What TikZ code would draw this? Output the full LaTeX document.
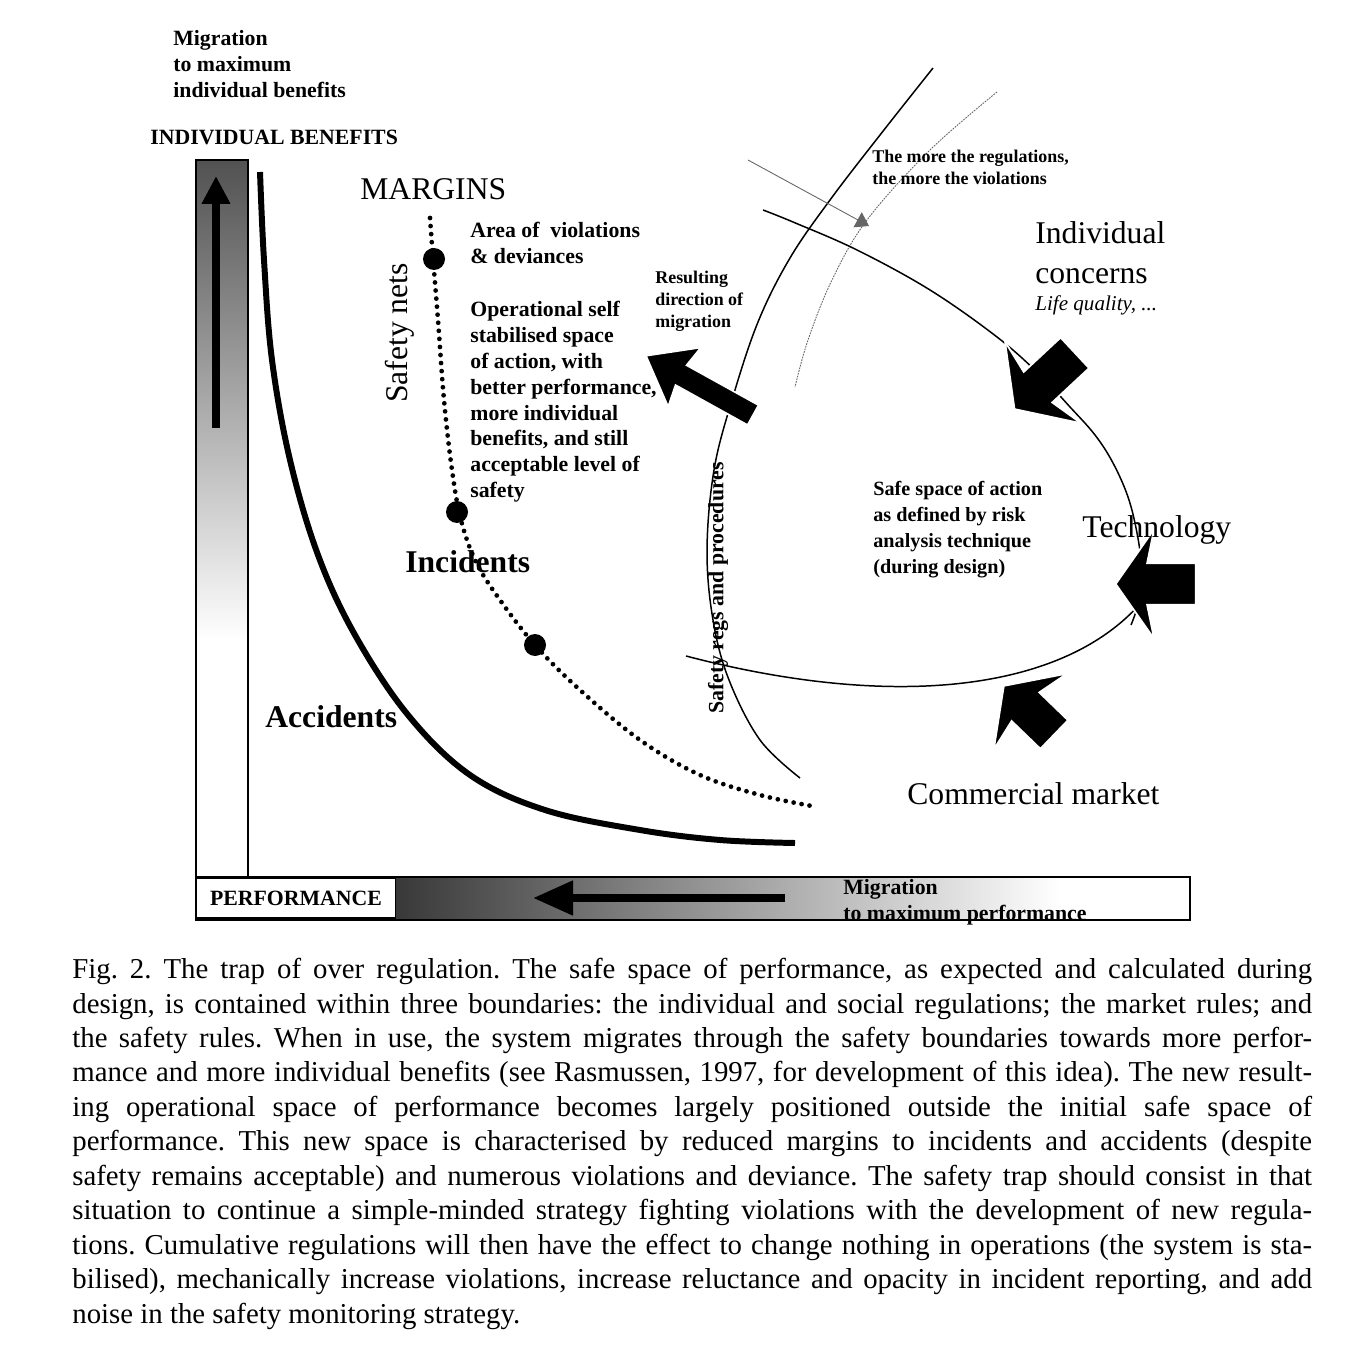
\documentclass[tikz,border=0pt]{standalone}
\usepackage{fontspec}
\setmainfont{Liberation Serif}
\usetikzlibrary{arrows.meta,shapes.arrows}
\tikzset{
  lbl/.style    = {font=\fontsize{12.4}{14.7}\selectfont\bfseries, align=left, inner sep=0pt, anchor=north west},
  smalllbl/.style = {font=\fontsize{10.2}{12.5}\selectfont\bfseries, align=left, inner sep=0pt, anchor=north west},
  big/.style    = {font=\fontsize{18}{22.7}\selectfont, inner sep=0pt, align=left},
  bigb/.style   = {font=\fontsize{18}{22.7}\selectfont\bfseries, inner sep=0pt},
  bound/.style  = {draw=black, line width=0.85pt},
  accline/.style = {line width=3.4pt},
  netline/.style = {line width=2.7pt, line cap=round, dash pattern=on 0pt off 4.6pt},
  hit/.style    = {circle, fill=black, inner sep=0pt, minimum size=4.4mm},
  fatarr/.style = {single arrow, fill=black, draw=white, line width=1pt, inner xsep=0pt,
                   single arrow tip angle=110, single arrow head indent=1.4mm},
  migr/.style   = {-{Triangle[length=5.6mm, width=5.4mm]}, line width=4.5pt},
}

\begin{document}
\begin{tikzpicture}[x=0.02cm, y=-0.02cm]
  \useasboundingbox (0,0) rectangle (1354,1344);
  % axes with gradients
  \shade[top color=black!68, bottom color=white] (196,160) rectangle (248,640);
  \draw[line width=0.6pt] (196,160) rectangle (248,878);
  \shade[left color=black!78, right color=white] (395,877) rectangle (1060,920);
  \draw[line width=0.6pt] (196,877) rectangle (1190,920);
  \node[draw, fill=white, line width=0.6pt, inner sep=0pt, minimum width=3.98cm, minimum height=0.8cm,
        font=\fontsize{12.4}{14.7}\selectfont\bfseries] (perf) at (296,898) {PERFORMANCE};
  \coordinate (up0) at (216,428);
  \coordinate (up1) at (216,176);
  \draw[migr] (up0) -- (up1);
  \coordinate (left0) at (785,898);
  \coordinate (left1) at (533,898);
  \draw[migr, -{Triangle[length=8mm, width=6.6mm]}] (left0) -- (left1);
  \node[lbl] (migben) at (173,30) {Migration\\to maximum\\individual benefits};
  \node[lbl, anchor=west] (indben) at (150,137) {INDIVIDUAL BENEFITS};
  \node[lbl] (migperf) at (843,879) {Migration\\to maximum performance};

  % accidents and incidents curves
  \draw[accline] plot[smooth, tension=0.6] coordinates {(260,172) (264,260) (272,360) (290,460) (318,555)
    (355,635) (408,715) (470,775) (545,810) (640,830) (720,840) (795,843)};
  \draw[netline] plot[smooth, tension=0.6] coordinates {(430,218) (433,258) (438,320) (444,400) (452,470)
    (461,520) (476,562) (500,600) (535,645) (580,690) (640,740) (700,775) (760,795) (812,806)};
  \foreach \i/\p in {1/{(434,259)}, 2/{(457,512)}, 3/{(535,645)}}
    \node[hit] (hit\i) at \p {};

  % boundaries of the safe space
  \draw[bound] plot[smooth, tension=0.6] coordinates {(933,68) (880,135) (830,200) (790,258) (758,322)
    (732,400) (714,470) (707,550) (713,620) (729,680) (760,740) (800,778)};
  \draw[black!60, line width=0.5pt, dash pattern=on 1pt off 0.6pt] plot[smooth, tension=0.6] coordinates
    {(997,92) (930,150) (867,220) (832,280) (808,340) (795,387)};
  \draw[bound] plot[smooth, tension=0.6] coordinates {(763,210) (793,222) (857,250) (930,290) (997,337)
    (1040,375) (1070,407) (1095,435) (1113,463) (1128,497) (1137,533) (1141,565) (1139,600) (1131,625)};
  \draw[bound] (686,656) .. controls (900,712) and (1070,690) .. (1145,598);
  \coordinate (reg0) at (748,160);
  \coordinate (reg1) at (869,226);
  \draw[black!60, line width=0.5pt, -{Triangle[length=2.6mm, width=3.4mm]}] (reg0) -- (reg1);

  % block arrows
  \node[fatarr, minimum height=1.65cm, inner ysep=0.4cm, single arrow head extend=0.7cm, rotate=223] (indarr) at (1050,376) {};
  \node[fatarr, minimum height=1.6cm, inner ysep=0.4cm, single arrow head extend=0.68cm, rotate=180] (techarr) at (1163,584) {};
  \node[fatarr, minimum height=1.4cm, inner ysep=0.38cm, single arrow head extend=0.66cm, rotate=136] (comarr) at (1034,715) {};
  \node[fatarr, minimum height=2.45cm, inner ysep=0.21cm, single arrow head extend=0.45cm, single arrow tip angle=75,
        single arrow head indent=0.8mm, rotate=151] (resarr) at (706,389) {};

  % labels
  \node[big, anchor=west] (margins) at (360,189) {MARGINS};
  \node[big, rotate=90] (nets) at (400,333) {Safety nets};
  \node[lbl] (viol) at (470,222) {Area of \ violations\\\& deviances};
  \node[lbl] (opspace) at (470,301) {Operational self\\stabilised space\\of action, with\\better performance,\\more individual\\benefits, and still\\acceptable level of\\safety};
  \node[smalllbl] (resdir) at (655,271) {Resulting\\direction of\\migration};
  \node[smalllbl] (moreregs) at (872,150) {The more the regulations,\\the more the violations};
  \node[big, anchor=north west] (indconc) at (1035,221) {Individual\\concerns};
  \node[font=\fontsize{12}{14}\selectfont\itshape, inner sep=0pt, anchor=west] (life) at (1035,305) {Life quality, ...};
  \node[lbl, font=\fontsize{11.5}{14.7}\selectfont\bfseries] (safespace) at (873,481) {Safe space of action\\as defined by risk\\analysis technique\\(during design)};
  \node[big, anchor=west] (tech) at (1082,530) {Technology};
  \node[bigb, anchor=west] (incid) at (405,562) {Incidents};
  \node[bigb, anchor=west] (accid) at (265,717) {Accidents};
  \node[lbl, anchor=center, rotate=90] (regs) at (718,588) {Safety regs and procedures};
  \node[big, anchor=west] (market) at (907,794) {Commercial market};

  % caption
  \node[anchor=north west, inner sep=0pt, text width=24.8cm, align=justify,
        font=\fontsize{16.4}{19.6}\selectfont\frenchspacing] (caption) at (72,958) {Fig.~2. The trap of over regulation. The safe space of performance, as expected and calculated during\linebreak
design, is contained within three boundaries: the individual and social regulations; the market rules; and\linebreak
the safety rules. When in use, the system migrates through the safety boundaries towards more perfor-\linebreak
mance and more individual benefits (see Rasmussen, 1997, for development of this idea). The new result-\linebreak
ing operational space of performance becomes largely positioned outside the initial safe space of\linebreak
performance. This new space is characterised by reduced margins to incidents and accidents (despite\linebreak
safety remains acceptable) and numerous violations and deviance. The safety trap should consist in that\linebreak
situation to continue a simple-minded strategy fighting violations with the development of new regula-\linebreak
tions. Cumulative regulations will then have the effect to change nothing in operations (the system is sta-\linebreak
bilised), mechanically increase violations, increase reluctance and opacity in incident reporting, and add\linebreak
noise in the safety monitoring strategy.};
\end{tikzpicture}
\end{document}
